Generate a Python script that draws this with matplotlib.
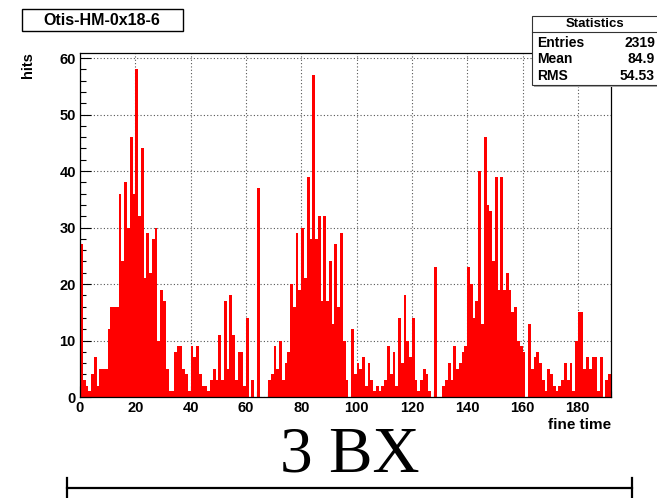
import numpy as np
import matplotlib.pyplot as plt
from matplotlib.patches import Rectangle
from matplotlib.ticker import MultipleLocator

# histogram data: 192 bins of "fine time"
bin_edges = np.arange(0, 193)
counts = [
    27, 3, 2, 1, 4, 7, 2, 5, 5, 5,
    12, 16, 16, 16, 36, 24, 38, 30, 46, 36,
    58, 32, 44, 21, 29, 22, 28, 30, 10, 19,
    17, 5, 1, 1, 8, 9, 9, 5, 4, 1,
    9, 7, 9, 4, 2, 2, 1, 3, 5, 3,
    11, 3, 17, 5, 18, 11, 3, 8, 8, 2,
    14, 0, 3, 0, 37, 0, 0, 0, 3, 4,
    9, 5, 10, 3, 6, 8, 20, 16, 29, 19,
    30, 21, 39, 28, 57, 28, 32, 17, 32, 17,
    24, 13, 27, 16, 29, 10, 3, 0, 12, 4,
    6, 5, 7, 2, 6, 3, 1, 2, 1, 2,
    3, 9, 4, 8, 2, 14, 6, 18, 10, 7,
    14, 3, 1, 3, 5, 4, 1, 0, 23, 0,
    0, 2, 3, 6, 3, 9, 5, 6, 8, 9,
    23, 20, 14, 17, 40, 13, 46, 34, 33, 24,
    39, 19, 39, 19, 22, 19, 15, 16, 10, 9,
    8, 0, 13, 5, 7, 8, 6, 3, 1, 5,
    4, 2, 1, 2, 3, 6, 3, 6, 1, 10,
    15, 15, 5, 7, 5, 7, 7, 1, 7, 0,
    3, 4,
]

hist_title = "Otis-HM-0x18-6"
stat_names = ["Entries", "Mean", "RMS"]
stat_values = ["2319", "84.9", "54.53"]

SANS = "Liberation Sans"
SERIF = "Liberation Serif"

fig = plt.figure(figsize=(6.57, 4.98), dpi=100)

# main histogram frame
ax = fig.add_axes([80 / 657, 101 / 498, 531 / 657, 344 / 498])
ax.stairs(counts, bin_edges, fill=True, color="#ff0000", lw=0)
ax.set_xlim(0, 192)
ax.set_ylim(0, 60.9)

ax.xaxis.set_major_locator(MultipleLocator(20))
ax.xaxis.set_minor_locator(MultipleLocator(4))
ax.yaxis.set_major_locator(MultipleLocator(10))
ax.yaxis.set_minor_locator(MultipleLocator(2))
ax.tick_params(which="both", direction="in", top=False, right=False, width=0.8)
ax.tick_params(which="major", length=8, labelsize=10.5, pad=3)
ax.tick_params(which="minor", length=4)
for lab in ax.get_xticklabels() + ax.get_yticklabels():
    lab.set_fontfamily(SANS)
    lab.set_fontweight("bold")

ax.set_axisbelow(True)
ax.grid(True, which="major", linestyle=(0, (1, 2)), color="#555555", lw=0.8)
for sp in ax.spines.values():
    sp.set_linewidth(0.9)

# overlay in pixel coordinates for boxes, labels and the bracket
ov = fig.add_axes([0, 0, 1, 1], zorder=5)
ov.set_xlim(0, 657)
ov.set_ylim(498, 0)
ov.axis("off")

# title box
ov.add_patch(Rectangle((22, 9), 161, 22, fc="white", ec="black", lw=1))
ov.text(102, 20, hist_title, ha="center", va="center", family=SANS,
        weight="bold", fontsize=11.5)

# axis titles
ov.text(28, 65, "hits", rotation=90, ha="center", va="center", family=SANS,
        weight="bold", fontsize=10.5)
ov.text(611, 425, "fine time", ha="right", va="center", family=SANS,
        weight="bold", fontsize=11)

# statistics box with shadow
ov.add_patch(Rectangle((534, 18), 130, 69, fc="#aaaaaa", ec="none"))
ov.add_patch(Rectangle((532, 16), 130, 69, fc="white", ec="#333333", lw=0.8))
ov.plot([532, 657], [32, 32], color="#333333", lw=0.8)
ov.text(595, 23.5, "Statistics", ha="center", va="center", family=SANS,
        weight="bold", fontsize=9.5)
for i, (name, val) in enumerate(zip(stat_names, stat_values)):
    y = 42.5 + i * 16.5
    ov.text(537, y, name, ha="left", va="center", family=SANS,
            weight="bold", fontsize=10)
    ov.text(655, y, val, ha="right", va="center", family=SANS,
            weight="bold", fontsize=10)

# "3 BX" span annotation
ov.text(350, 456, "3 BX", ha="center", va="center", family=SERIF, fontsize=47)
ov.plot([67, 632], [488, 488], color="black", lw=1.6)
ov.plot([67, 67], [478, 497], color="black", lw=1.6)
ov.plot([632, 632], [478, 497], color="black", lw=1.6)

fig.savefig("out.png", dpi=100)
